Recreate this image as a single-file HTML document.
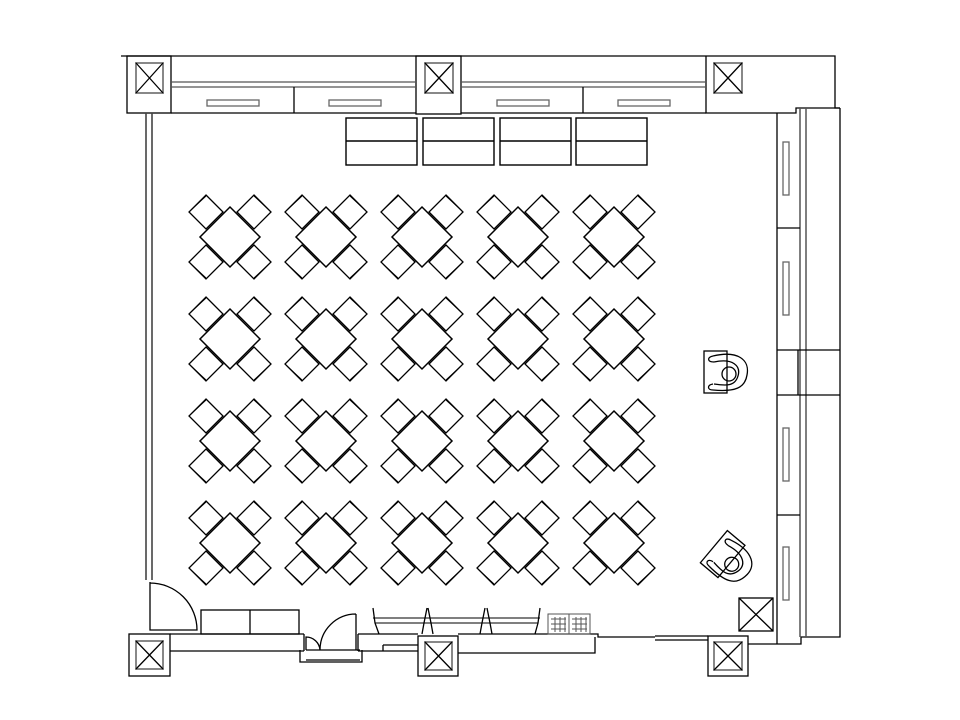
<!DOCTYPE html>
<html><head><meta charset="utf-8"><style>html,body{margin:0;padding:0;background:#fff}svg{display:block}</style></head>
<body>
<svg width="960" height="720" viewBox="0 0 960 720" xmlns="http://www.w3.org/2000/svg" fill="none" stroke="#000" stroke-width="1.3">
<defs>
<g id="t">
  <g fill="#fff">
  <path d="M-24,-42 L-7,-25 L-24,-8 L-41,-25 Z"/>
  <path d="M24,-42 L41,-25 L24,-8 L7,-25 Z"/>
  <path d="M-24,8 L-7,25 L-24,42 L-41,25 Z"/>
  <path d="M24,8 L41,25 L24,42 L7,25 Z"/>
  </g>
  <path d="M-39,-27 L-24,-41 M39,-27 L24,-41 M-39,27 L-24,41 M39,27 L24,41" stroke-width="1"/>
  <path d="M0,-30 L30,0 L0,30 L-30,0 Z" fill="#fff" stroke-width="1.5"/>
</g>
<g id="desk">
  <rect x="704" y="351" width="23" height="42" fill="#fff"/>
  <path d="M713,356 C738,350 750,360 747,375 C745,388 735,392 713,390"/>
  <path d="M714,362 C733,358 741,366 738,376 C735,386 727,386 714,384"/>
  <path d="M713,356 C707,357 707,362 714,362 M713,384 C707,385 707,390 713,390"/>
  <circle cx="729" cy="374" r="7"/>
</g>
</defs>

<!-- top band -->
<path d="M121,56 L835,56 L835,108 L840,108"/>
<rect x="127" y="56" width="44" height="57"/>
<rect x="136" y="63" width="27" height="30" stroke="#888" stroke-width="2"/>
<path d="M136,63 L163,93 M163,63 L136,93" />
<rect x="416" y="56" width="45" height="58"/>
<rect x="425" y="63" width="28" height="30" stroke="#888" stroke-width="2"/>
<path d="M425,63 L453,93 M453,63 L425,93"/>
<path d="M706,56 L706,113 L796,113 L796,108 L840,108"/>
<rect x="714" y="63" width="28" height="30" stroke="#888" stroke-width="2"/>
<path d="M714,63 L742,93 M742,63 L714,93"/>
<!-- top windows -->
<path d="M171,82 L416,82 M171,87 L416,87 M461,82 L706,82 M461,87 L706,87" stroke="#555"/>
<path d="M171,113 L416,113 M461,113 L706,113 M294,87 L294,113 M583,87 L583,113"/>
<rect x="207" y="100" width="52" height="6" stroke="#666"/>
<rect x="329" y="100" width="52" height="6" stroke="#666"/>
<rect x="497" y="100" width="52" height="6" stroke="#666"/>
<rect x="618" y="100" width="52" height="6" stroke="#666"/>
<!-- whiteboard tables -->
<g stroke-width="1.4">
<rect x="346" y="118" width="71" height="47"/><path d="M346,141 L417,141"/>
<rect x="423" y="118" width="71" height="47"/><path d="M423,141 L494,141"/>
<rect x="500" y="118" width="71" height="47"/><path d="M500,141 L571,141"/>
<rect x="576" y="118" width="71" height="47"/><path d="M576,141 L647,141"/>
</g>
<!-- left wall -->
<path d="M146,113 L146,580 M152,113 L152,580" stroke="#444" stroke-width="1.6"/>
<path d="M150,582 L150,630 L197,630 A47,47 0 0 0 150,583"/>
<!-- right wall -->
<path d="M777,113 L777,644 L748,644 M777,644 L801,644 L801,637 L840,637 L840,108"/>
<path d="M800,108 L800,637 M806,108 L806,637" stroke="#555" stroke-width="1.5"/>
<path d="M777,228 L800,228 M777,350 L840,350 M777,395 L840,395 M777,515 L800,515 M798,350 L798,395"/>
<rect x="783" y="142" width="6" height="53" stroke="#666"/>
<rect x="783" y="262" width="6" height="53" stroke="#666"/>
<rect x="783" y="428" width="6" height="53" stroke="#666"/>
<rect x="783" y="547" width="6" height="53" stroke="#666"/>
<rect x="739" y="598" width="34" height="33"/>
<path d="M739,598 L773,631 M773,598 L739,631"/>
<!-- bottom -->
<rect x="129" y="634" width="41" height="42"/>
<rect x="136" y="641" width="27" height="28" stroke="#888" stroke-width="2"/>
<path d="M136,641 L163,669 M163,641 L136,669"/>
<path d="M170,634 L304,634 M170,651 L304,651 M304,634 L304,651"/>
<rect x="201" y="610" width="98" height="24"/><path d="M250,610 L250,634"/>
<path d="M306,650 L306,637 A14,14 0 0 1 320,650 M356,614 L356,650 M356,614 A36,36 0 0 0 320,650 M306,650 L360,650 M306,660 L360,660 M300,650 L300,662 L362,662 L362,650"/>
<path d="M358,634 L418,634 M358,651 L418,651 M358,634 L358,651 M383,645 L418,645 M383,645 L383,651"/>
<rect x="418" y="636" width="40" height="40"/>
<rect x="425" y="642" width="27" height="28" stroke="#888" stroke-width="2"/>
<path d="M425,642 L452,670 M452,642 L425,670"/>
<path d="M458,634 L598,634 L598,637 L655,637 M458,653 L595,653 L595,637"/>
<path d="M655,636 L708,636 M655,640 L708,640"/>
<rect x="708" y="636" width="40" height="40"/>
<rect x="714" y="642" width="28" height="28" stroke="#888" stroke-width="2"/>
<path d="M714,642 L742,670 M742,642 L714,670"/>
<!-- counter -->
<path d="M373,618 L540,618 M375,623 L538,623" stroke="#333"/>
<path d="M373,608 L375,623 L379,634 M427,608 L424,623 L422,634 M428,608 L431,623 L433,634 M485,608 L482,623 L480,634 M487,608 L490,623 L492,634 M540,608 L538,623 L535,634"/>
<g stroke="#555" stroke-width="1">
<rect x="548" y="614" width="21" height="20"/><rect x="569" y="614" width="21" height="20"/>
<path d="M551,619 L566,619 M551,624 L566,624 M551,629 L566,629 M555,617 L555,632 M560,617 L560,632 M565,617 L565,632 M572,619 L587,619 M572,624 L587,624 M572,629 L587,629 M576,617 L576,632 M581,617 L581,632 M586,617 L586,632"/>
</g>
<!-- desks -->
<use href="#desk"/>
<use href="#desk" transform="translate(5,186) rotate(40 722 373)"/>
<!-- tables -->
<use href="#t" x="230" y="237"/><use href="#t" x="326" y="237"/><use href="#t" x="422" y="237"/><use href="#t" x="518" y="237"/><use href="#t" x="614" y="237"/>
<use href="#t" x="230" y="339"/><use href="#t" x="326" y="339"/><use href="#t" x="422" y="339"/><use href="#t" x="518" y="339"/><use href="#t" x="614" y="339"/>
<use href="#t" x="230" y="441"/><use href="#t" x="326" y="441"/><use href="#t" x="422" y="441"/><use href="#t" x="518" y="441"/><use href="#t" x="614" y="441"/>
<use href="#t" x="230" y="543"/><use href="#t" x="326" y="543"/><use href="#t" x="422" y="543"/><use href="#t" x="518" y="543"/><use href="#t" x="614" y="543"/>
</svg>
</body></html>
